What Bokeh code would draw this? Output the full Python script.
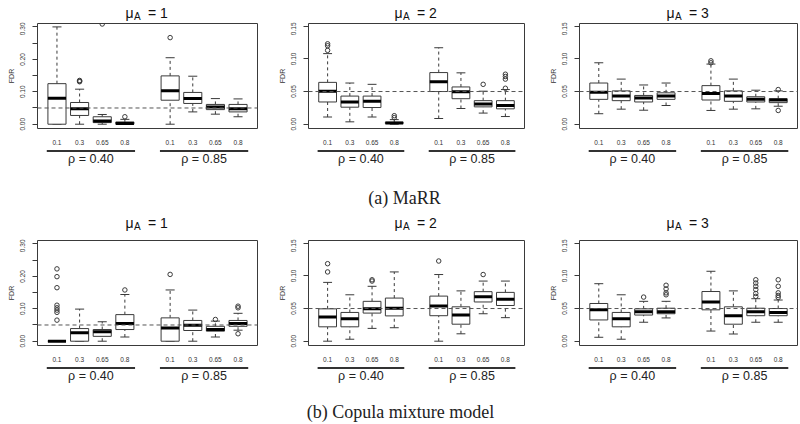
from bokeh.plotting import figure
from bokeh.layouts import row, column
from bokeh.models import (Range1d, FixedTicker, PrintfTickFormatter, Span, ColumnDataSource)
from bokeh.core.properties import value
from bokeh.embed import file_html
from bokeh.resources import INLINE

# ---------------- data ----------------
positions = [1, 2, 3, 4, 6, 7, 8, 9]
pi_labels = ["0.1", "0.3", "0.65", "0.8", "0.1", "0.3", "0.65", "0.8"]
rho_groups = ["ρ = 0.40", "ρ = 0.85"]
rho_centers = [2.5, 7.5]
rho_left = [0.55, 5.55]
rho_right = [4.45, 9.45]
mu_values = ["1", "2", "3"]
fdr_target = 0.05
captions = ["(a) MaRR", "(b) Copula mixture model"]

# rows: (lower whisker, Q1, median, Q3, upper whisker)
marr_mu1 = [(0.000, 0.000, 0.080, 0.125, 0.300), (0.000, 0.027, 0.048, 0.067, 0.108),
            (0.000, 0.005, 0.010, 0.023, 0.030), (0.000, 0.000, 0.002, 0.007, 0.015),
            (0.000, 0.074, 0.103, 0.149, 0.205), (0.038, 0.064, 0.079, 0.098, 0.148),
            (0.031, 0.045, 0.053, 0.061, 0.079), (0.023, 0.038, 0.048, 0.061, 0.078)]
marr_mu1_out = [(2, 0.131), (2, 0.133), (2, 0.135), (3, 0.309), (4, 0.023), (6, 0.267)]

marr_mu2 = [(0.011, 0.034, 0.0505, 0.064, 0.108), (0.0036, 0.026, 0.034, 0.043, 0.063),
            (0.011, 0.0255, 0.035, 0.043, 0.061), (0.000, 0.001, 0.002, 0.003, 0.007),
            (0.0087, 0.050, 0.065, 0.079, 0.117), (0.024, 0.039, 0.0495, 0.057, 0.0786),
            (0.017, 0.0265, 0.031, 0.036, 0.0505), (0.0117, 0.0235, 0.0286, 0.036, 0.053)]
marr_mu2_out = [(1, 0.113), (1, 0.120), (1, 0.123), (4, 0.010), (4, 0.013), (8, 0.061),
                (9, 0.055), (9, 0.069), (9, 0.073), (9, 0.0765)]

marr_mu3 = [(0.016, 0.038, 0.049, 0.063, 0.094), (0.023, 0.036, 0.043, 0.051, 0.069),
            (0.0214, 0.034, 0.040, 0.044, 0.060), (0.0286, 0.038, 0.043, 0.048, 0.063),
            (0.021, 0.037, 0.047, 0.059, 0.092), (0.023, 0.035, 0.043, 0.051, 0.069),
            (0.0235, 0.034, 0.038, 0.042, 0.052), (0.0275, 0.033, 0.037, 0.039, 0.051)]
marr_mu3_out = [(6, 0.094), (6, 0.097), (9, 0.053), (9, 0.021)]

cop_mu1 = [(0.000, 0.000, 0.000, 0.000, 0.000), (0.000, 0.000, 0.026, 0.039, 0.099),
           (0.000, 0.015, 0.029, 0.036, 0.060), (0.013, 0.036, 0.055, 0.082, 0.144),
           (0.000, 0.000, 0.041, 0.072, 0.158), (0.000, 0.033, 0.0495, 0.064, 0.096),
           (0.013, 0.031, 0.036, 0.046, 0.062), (0.034, 0.046, 0.055, 0.064, 0.086)]
cop_mu1_out = [(1, 0.223), (1, 0.199), (1, 0.165), (1, 0.111), (1, 0.103), (1, 0.096),
               (1, 0.089), (1, 0.065), (4, 0.158), (6, 0.206), (8, 0.067), (9, 0.108),
               (9, 0.103), (9, 0.023)]

cop_mu2 = [(0.000, 0.022, 0.037, 0.0495, 0.090), (0.003, 0.022, 0.0345, 0.044, 0.071),
           (0.0196, 0.043, 0.0495, 0.061, 0.084), (0.0206, 0.0387, 0.0505, 0.066, 0.106),
           (0.000, 0.039, 0.054, 0.069, 0.102), (0.0113, 0.026, 0.040, 0.0526, 0.077),
           (0.042, 0.060, 0.068, 0.0758, 0.092), (0.036, 0.0546, 0.064, 0.0747, 0.092)]
cop_mu2_out = [(1, 0.1186), (1, 0.106), (3, 0.092), (3, 0.094), (6, 0.1227), (8, 0.102)]

cop_mu3 = [(0.006, 0.0325, 0.048, 0.0577, 0.088), (0.003, 0.022, 0.0345, 0.044, 0.071),
           (0.029, 0.040, 0.045, 0.0495, 0.061), (0.0356, 0.042, 0.045, 0.0505, 0.061),
           (0.0155, 0.048, 0.060, 0.076, 0.107), (0.011, 0.026, 0.039, 0.0526, 0.077),
           (0.029, 0.039, 0.045, 0.0505, 0.065), (0.029, 0.039, 0.044, 0.050, 0.063)]
cop_mu3_out = [(3, 0.0675), (4, 0.0856), (4, 0.080), (4, 0.074), (4, 0.071),
               (8, 0.094), (8, 0.089), (8, 0.084), (8, 0.079), (8, 0.073), (8, 0.0686),
               (9, 0.094), (9, 0.084), (9, 0.074), (9, 0.070), (9, 0.067)]

y_wide_major = [0.0, 0.1, 0.2, 0.3]
y_wide_minor = [0.05, 0.15, 0.25]
y_narrow_major = [0.0, 0.05, 0.10, 0.15]

# ---------------- style ----------------
FONT = "Liberation Sans"
SERIF = "Liberation Serif"
LINE = "#3a3a3a"
XLO, XHI = 0.14, 9.86
FRAME_H = 105
Y_WIDE = (-0.0132, 0.3105)
Y_NARROW = (-0.0066, 0.1541)
TOTAL_W = 798


def strip(width, height, bl, br, xr):
    s = figure(width=width, height=height, x_range=xr, y_range=Range1d(0, height),
               output_backend="svg", toolbar_location=None, title=None,
               x_axis_type=None, y_axis_type=None,
               min_border_left=bl, min_border_right=br, min_border_top=0, min_border_bottom=0)
    s.xgrid.visible = False
    s.ygrid.visible = False
    s.outline_line_color = None
    s.background_fill_color = "white"
    s.border_fill_color = "white"
    return s


def panel(stats, outs, yr, ymajor, yminor, mu, fw, bl, br, title_h):
    width = bl + fw + br
    xr = Range1d(XLO, XHI)
    dx = (XHI - XLO) / fw
    xc = (XLO + XHI) / 2

    # title strip: mu_A = k
    t = strip(width, title_h, bl, br, xr)
    t.text(x=[xc - 22 * dx], y=[title_h - 12.3], text=["μ"], text_align="left",
           text_baseline="alphabetic", text_font=value(FONT), text_font_size="14px",
           text_color="#111111")
    t.text(x=[xc - 13.5 * dx], y=[title_h - 15.5], text=["A"], text_align="left",
           text_baseline="alphabetic", text_font=value(FONT), text_font_size="10px",
           text_color="#111111")
    t.text(x=[xc + 0.5 * dx], y=[title_h - 12.3], text=["= " + mu], text_align="left",
           text_baseline="alphabetic", text_font=value(FONT), text_font_size="14px",
           text_color="#111111")

    # main box plot
    p = figure(width=width, height=1 + FRAME_H + 20, x_range=xr, y_range=Range1d(yr[0], yr[1]),
               output_backend="svg", toolbar_location=None, title=None,
               min_border_left=bl, min_border_right=br, min_border_top=1, min_border_bottom=20)
    p.xgrid.visible = False
    p.ygrid.visible = False
    p.outline_line_color = LINE
    p.outline_line_width = 1
    p.background_fill_color = "white"
    p.border_fill_color = "white"

    src = ColumnDataSource(dict(
        x=positions,
        lo=[s[0] for s in stats], q1=[s[1] for s in stats], med=[s[2] for s in stats],
        q3=[s[3] for s in stats], hi=[s[4] for s in stats],
        left=[x - 0.4 for x in positions], right=[x + 0.4 for x in positions],
        cl=[x - 0.2 for x in positions], cr=[x + 0.2 for x in positions]))

    p.add_layout(Span(location=fdr_target, dimension="width", line_dash="4 3",
                      line_color="#555555", line_width=1))
    p.segment(x0="x", y0="q3", x1="x", y1="hi", source=src, line_dash="3 3",
              line_color=LINE, line_width=1)
    p.segment(x0="x", y0="lo", x1="x", y1="q1", source=src, line_dash="3 3",
              line_color=LINE, line_width=1)
    p.segment(x0="cl", y0="hi", x1="cr", y1="hi", source=src, line_color=LINE, line_width=1)
    p.segment(x0="cl", y0="lo", x1="cr", y1="lo", source=src, line_color=LINE, line_width=1)
    p.quad(left="left", right="right", bottom="q1", top="q3", source=src,
           fill_color="white", line_color=LINE, line_width=1)
    p.segment(x0="left", y0="med", x1="right", y1="med", source=src,
              line_color="black", line_width=3)
    p.scatter(x=[o[0] for o in outs], y=[o[1] for o in outs], marker="circle",
              size=4.5, fill_color=None, line_color=LINE, line_width=1)

    ya = p.yaxis[0]
    ya.ticker = FixedTicker(ticks=ymajor, minor_ticks=yminor)
    ya.formatter = PrintfTickFormatter(format="%.2f")
    ya.axis_line_color = None
    ya.major_tick_in = 0
    ya.major_tick_out = 5
    ya.minor_tick_in = 0
    ya.minor_tick_out = 5
    ya.major_tick_line_color = LINE
    ya.minor_tick_line_color = LINE
    ya.major_label_orientation = "vertical"
    ya.major_label_text_font = FONT
    ya.major_label_text_font_size = "6.5px"
    ya.major_label_text_color = "#333333"
    ya.major_label_standoff = 7
    ya.axis_label = "FDR"
    ya.axis_label_text_font = FONT
    ya.axis_label_text_font_size = "7px"
    ya.axis_label_text_font_style = "normal"
    ya.axis_label_text_color = "#333333"
    ya.axis_label_standoff = 3

    xa = p.xaxis[0]
    xa.ticker = FixedTicker(ticks=positions)
    xa.major_label_overrides = {pos: lab for pos, lab in zip(positions, pi_labels)}
    xa.axis_line_color = None
    xa.major_tick_line_color = None
    xa.minor_tick_line_color = None
    xa.major_tick_out = 0
    xa.major_tick_in = 0
    xa.major_label_standoff = 11
    xa.major_label_text_font = FONT
    xa.major_label_text_font_size = "6.5px"
    xa.major_label_text_color = "#333333"

    # rho group strip
    lh = 32
    g = strip(width, lh, bl, br, xr)
    g.segment(x0=rho_left, y0=[lh - 2.5] * 2, x1=rho_right, y1=[lh - 2.5] * 2,
              line_width=2, line_color="#333333")
    g.text(x=rho_centers, y=[lh - 10.5] * 2, text=rho_groups, text_align="center",
           text_baseline="middle", text_font=value(FONT), text_font_size="12.5px",
           text_color="#222222")

    return column(t, p, g, spacing=0)


def caption_strip(text, cx, height, cy_from_top):
    c = strip(TOTAL_W, height, 0, 0, Range1d(0, TOTAL_W))
    c.text(x=[cx], y=[height - cy_from_top], text=[text], text_align="center",
           text_baseline="middle", text_font=value(SERIF), text_font_size="18px",
           text_color="#222222")
    return c


# geometry per column: (frame width, left border, right border)
cols = [(220, 37, 5), (216, 46, 4), (218, 51, 1)]

row1 = row(
    panel(marr_mu1, marr_mu1_out, Y_WIDE, y_wide_major, y_wide_minor, mu_values[0], *cols[0], 22),
    panel(marr_mu2, marr_mu2_out, Y_NARROW, y_narrow_major, [], mu_values[1], *cols[1], 22),
    panel(marr_mu3, marr_mu3_out, Y_NARROW, y_narrow_major, [], mu_values[2], *cols[2], 22),
    spacing=0)
cap1 = caption_strip(captions[0], 404, 30, 17)
row2 = row(
    panel(cop_mu1, cop_mu1_out, Y_WIDE, y_wide_major, y_wide_minor, mu_values[0], *cols[0], 29),
    panel(cop_mu2, cop_mu2_out, Y_NARROW, y_narrow_major, [], mu_values[1], *cols[1], 29),
    panel(cop_mu3, cop_mu3_out, Y_NARROW, y_narrow_major, [], mu_values[2], *cols[2], 29),
    spacing=0)
cap2 = caption_strip(captions[1], 400, 26, 14.5)

layout = column(row1, cap1, row2, cap2, spacing=0)

with open("out.html", "w") as fh:
    fh.write(file_html(layout, INLINE))
